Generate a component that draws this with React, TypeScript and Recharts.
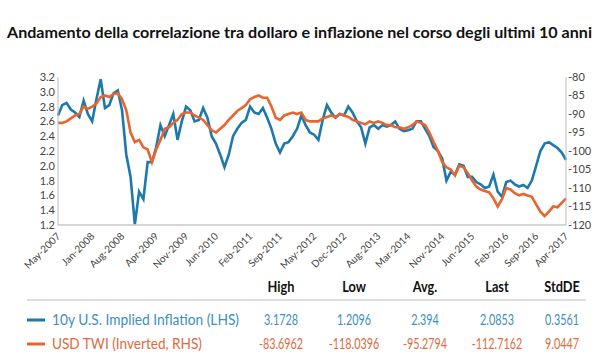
import { LineChart, Line, XAxis, YAxis } from 'recharts';

// 10y US implied inflation (LHS), monthly May-2007 .. Apr-2017
const INFLATION = [
  2.68, 2.82, 2.85, 2.76, 2.72, 2.66, 2.88, 2.7, 2.6, 2.9,
  3.17, 2.78, 2.82, 2.98, 3.02, 2.75, 2.15, 1.85, 1.21, 1.65,
  1.55, 2.05, 2.05, 2.25, 2.55, 2.4, 2.55, 2.7, 2.35, 2.6,
  2.8, 2.75, 2.6, 2.62, 2.78, 2.65, 2.4, 2.3, 2.15, 1.98,
  2.15, 2.4, 2.5, 2.58, 2.62, 2.8, 2.72, 2.7, 2.78, 2.65,
  2.5, 2.3, 2.18, 2.3, 2.32, 2.4, 2.5, 2.68, 2.55, 2.45,
  2.42, 2.35, 2.62, 2.82, 2.72, 2.65, 2.7, 2.68, 2.8, 2.72,
  2.6, 2.52, 2.3, 2.52, 2.55, 2.5, 2.55, 2.53, 2.55, 2.6,
  2.5, 2.47, 2.48, 2.5, 2.6, 2.6, 2.5, 2.4, 2.25, 2.2,
  2.1, 1.8, 1.92, 1.88, 2.02, 2.0, 1.85, 1.85, 1.78, 1.75,
  1.7, 1.72, 1.88, 1.65, 1.58, 1.78, 1.8, 1.75, 1.72, 1.74,
  1.7, 1.8, 2.0, 2.2, 2.3, 2.32, 2.28, 2.24, 2.18, 2.08,
];

// USD TWI inverted (RHS)
const TWI = [
  -92.4, -92.4, -92, -91.2, -90.4, -90, -88, -88.6, -88, -87.2,
  -85.4, -85, -85.4, -84.6, -84.4, -86, -89, -95, -97.6, -97,
  -99, -99.6, -103, -99.6, -97, -94, -93.6, -92.4, -91.6, -90,
  -89.6, -89.6, -90.4, -91, -91.6, -93, -94.4, -95, -94, -93,
  -91.6, -90.4, -89.2, -88.4, -87.6, -86, -85.4, -85, -85.6, -85.6,
  -88, -91, -91.6, -90.4, -90, -89.6, -90, -89.6, -91.6, -92,
  -92, -92, -91.2, -90.8, -90.4, -90.8, -90, -90.4, -90.8, -91.6,
  -92, -92.4, -92.8, -92, -92.4, -92, -92.4, -93, -93, -93.6,
  -93.6, -94, -93.6, -93, -92, -92.4, -93, -95, -97.6, -100,
  -103, -104.4, -105, -106.6, -104, -104.4, -106, -108, -109.6, -110.4,
  -110.8, -111.2, -112.8, -115, -113, -110, -110.4, -111.4, -112, -111.6,
  -112, -112.4, -114.4, -116.4, -117.6, -116.4, -115, -115.2, -114, -112.8,
];

const TICK_INDEX = [0, 8, 15, 23, 30, 37, 45, 52, 60, 67, 75, 82, 90, 97, 105, 112, 119];
const TICK_LABELS = [
  'May-2007', 'Jan-2008', 'Aug-2008', 'Apr-2009', 'Nov-2009', 'Jun-2010', 'Feb-2011', 'Sep-2011',
  'May-2012', 'Dec-2012', 'Aug-2013', 'Mar-2014', 'Nov-2014', 'Jun-2015', 'Feb-2016', 'Sep-2016', 'Apr-2017',
];
const LEFT_TICKS = [1.2, 1.4, 1.6, 1.8, 2.0, 2.2, 2.4, 2.6, 2.8, 3.0, 3.2];
const RIGHT_TICKS = [-120, -115, -110, -105, -100, -95, -90, -85, -80];

const COLUMNS = ['High', 'Low', 'Avg.', 'Last', 'StdDE'];
const STATS_INFL = ['3.1728', '1.2096', '2.394', '2.0853', '0.3561'];
const STATS_TWI = ['-83.6962', '-118.0396', '-95.2794', '-112.7162', '9.0447'];

const BLUE = '#1c78ad';
const ORANGE = '#e8652d';
const FONT = 'Lato, "Open Sans", sans-serif';

const data = INFLATION.map((v, i) => ({ i, infl: v, twi: TWI[i] }));

function XTick({ x, y, payload }: any) {
  const label = TICK_LABELS[TICK_INDEX.indexOf(payload.value)];
  return (
    <text x={x + 3} y={y + 4} transform={`rotate(-45, ${x + 3}, ${y + 4})`} textAnchor="end"
      fontSize={10} fill="#444" fontFamily={FONT}>
      {label}
    </text>
  );
}

const COL_X = [281, 354, 425, 497, 562];

function Cell({ x, y, text, color, bold, sx }: { x: number; y: number; text: string; color: string; bold?: boolean; sx: number }) {
  return (
    <text transform={`translate(${x},${y}) scale(${sx},1)`} textAnchor="middle" fontSize={15}
      fontWeight={bold ? 700 : 400} fill={color} fontFamily={FONT}>
      {text}
    </text>
  );
}

export default function App() {
  return (
    <div style={{ position: 'fixed', left: 0, top: 0, width: 600, height: 360, background: '#fff', overflow: 'hidden' }}>
      <svg width={600} height={60} style={{ position: 'absolute', left: 0, top: 0 }}>
        <text x={7} y={38} textLength={585} lengthAdjust="spacingAndGlyphs" fontSize={16} fontWeight={700}
          fill="#111" fontFamily={FONT}>
          Andamento della correlazione tra dollaro e inflazione nel corso degli ultimi 10 anni
        </text>
      </svg>
      <div style={{ position: 'absolute', left: 0, top: 0 }}>
        <LineChart width={600} height={285} data={data} margin={{ top: 77, right: 0, left: 0, bottom: 0 }}
          style={{ overflow: 'visible' }}>
          <XAxis dataKey="i" type="number" domain={[0, 119]} ticks={TICK_INDEX} interval={0} height={60}
            axisLine={{ stroke: '#c8c8c8', strokeWidth: 1.5 }} tickLine={false} tick={<XTick />} />
          <YAxis yAxisId="l" domain={[1.2, 3.2]} ticks={LEFT_TICKS} width={58} interval={0}
            tickFormatter={(v: number) => v.toFixed(1)} axisLine={{ stroke: '#bdbdbd' }} tickLine={false}
            tickSize={2} tickMargin={1} tick={{ fontSize: 11, fill: '#444', fontFamily: FONT }} />
          <YAxis yAxisId="r" orientation="right" domain={[-120, -80]} ticks={RIGHT_TICKS} width={34} interval={0}
            axisLine={{ stroke: '#bdbdbd' }} tickLine={false} tickSize={1} tickMargin={1}
            tick={{ fontSize: 11, fill: '#444', fontFamily: FONT }} />
          <Line yAxisId="l" dataKey="infl" stroke={BLUE} strokeWidth={2.6} dot={false} isAnimationActive={false} />
          <Line yAxisId="r" dataKey="twi" stroke={ORANGE} strokeWidth={2.6} dot={false} isAnimationActive={false} />
        </LineChart>
      </div>
      <svg width={600} height={90} style={{ position: 'absolute', left: 0, top: 270 }}>
        {COLUMNS.map((c, k) => (
          <Cell key={c} x={COL_X[k]} y={22} text={c} color="#111" bold sx={0.85} />
        ))}
        <line x1={27} x2={586} y1={30} y2={30} stroke="#d4d4d4" strokeWidth={1.5} />
        <line x1={27} x2={45} y1={50} y2={50} stroke={BLUE} strokeWidth={3} />
        <text x={52} y={55} textLength={187} lengthAdjust="spacingAndGlyphs" fontSize={15} fill="#3b8fc2" fontFamily={FONT}>
          10y U.S. Implied Inflation (LHS)
        </text>
        {STATS_INFL.map((s, k) => (
          <Cell key={k} x={COL_X[k]} y={55} text={s} color="#3b8fc2" sx={0.72} />
        ))}
        <line x1={27} x2={45} y1={74} y2={74} stroke={ORANGE} strokeWidth={3} />
        <text x={52} y={79} textLength={150} lengthAdjust="spacingAndGlyphs" fontSize={15} fill="#e06a3e" fontFamily={FONT}>
          USD TWI (Inverted, RHS)
        </text>
        {STATS_TWI.map((s, k) => (
          <Cell key={k} x={COL_X[k]} y={79} text={s} color="#e06a3e" sx={0.72} />
        ))}
      </svg>
    </div>
  );
}
